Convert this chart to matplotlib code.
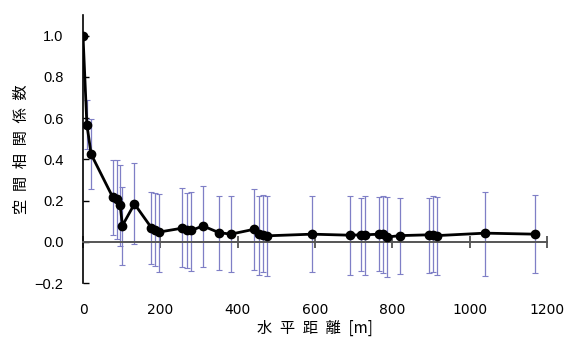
import matplotlib
matplotlib.use("Agg")
import matplotlib.pyplot as plt

# ----------------------------
# DATA
# ----------------------------
distance = [0, 10, 21, 77, 88, 96, 102, 133, 177, 185, 196,
            256, 269, 280, 310, 351, 382, 443, 454, 465, 476,
            592, 691, 720, 730, 766, 776, 786, 820, 896, 905, 915,
            1040, 1170]
corr = [1.0, 0.569, 0.425, 0.216, 0.208, 0.179, 0.079, 0.184, 0.068, 0.058, 0.047,
        0.066, 0.058, 0.055, 0.077, 0.045, 0.037, 0.061, 0.037, 0.034, 0.029,
        0.037, 0.032, 0.034, 0.034, 0.037, 0.037, 0.023, 0.030, 0.034, 0.034, 0.030,
        0.042, 0.037]
upper = [1.0, 0.69, 0.594, 0.396, 0.396, 0.372, 0.267, 0.383, 0.24, 0.238, 0.23,
         0.259, 0.238, 0.243, 0.271, 0.224, 0.222, 0.255, 0.222, 0.227, 0.222,
         0.224, 0.224, 0.211, 0.224, 0.219, 0.222, 0.219, 0.214, 0.214, 0.222, 0.219,
         0.243, 0.227]
lower = [1.0, 0.45, 0.256, 0.034, 0.0145, -0.02, -0.111, -0.01, -0.11, -0.119, -0.146,
         -0.124, -0.127, -0.143, -0.122, -0.135, -0.148, -0.135, -0.159, -0.148, -0.164,
         -0.148, -0.159, -0.143, -0.159, -0.143, -0.151, -0.171, -0.156, -0.151, -0.148, -0.159,
         -0.164, -0.151]

x_ticks = [0, 200, 400, 600, 800, 1000, 1200]
y_ticks = [-0.2, 0.0, 0.2, 0.4, 0.6, 0.8, 1.0]

JP = ["Noto Sans CJK JP", "DejaVu Sans"]
NUM = "Liberation Sans"

fig = plt.figure(figsize=(5.67, 3.4), dpi=100)
ax = fig.add_axes([0.1464, 0.1676, 0.8183, 0.788])

err_lo = [c - l for c, l in zip(corr, lower)]
err_hi = [u - c for c, u in zip(corr, upper)]
ax.errorbar(distance, corr, yerr=[err_lo, err_hi], fmt="none",
            ecolor="#7f7fc6", elinewidth=0.9, capsize=2, capthick=0.8, zorder=2)
ax.plot(distance, corr, color="black", lw=2, marker="o", ms=6, zorder=3)

ax.set_xlim(0, 1200)
ax.set_ylim(-0.2, 1.1)
ax.set_xticks(x_ticks)
ax.set_yticks(y_ticks)
ax.set_yticklabels([f"{v:.1f}".replace("-", "\u2212") for v in y_ticks],
                   family=NUM, fontsize=10.5)
ax.set_xticklabels([str(v) for v in x_ticks], family=NUM, fontsize=10.5)

# x axis drawn through zero, labels at bottom
ax.spines["bottom"].set_position(("data", 0))
ax.spines["bottom"].set_color("#555555")
ax.spines["bottom"].set_linewidth(1.4)
ax.spines["top"].set_visible(False)
ax.spines["right"].set_visible(False)
ax.spines["left"].set_linewidth(1.2)
ax.tick_params(axis="x", direction="inout", length=8, width=1.2,
               color="#444444", pad=40)
ax.tick_params(axis="y", direction="in", length=4, width=1, pad=14)

sp = "\u2002"
fig.text(0.037, 0.56, sp.join("空間相関係数"), rotation=90, ha="center", va="center",
         family=JP, fontsize=11)
fig.text(0.556, 0.035, sp.join("水平距離") + sp + "[m]", ha="center", va="center",
         family=JP, fontsize=11)

fig.savefig("out.png", dpi=100)
